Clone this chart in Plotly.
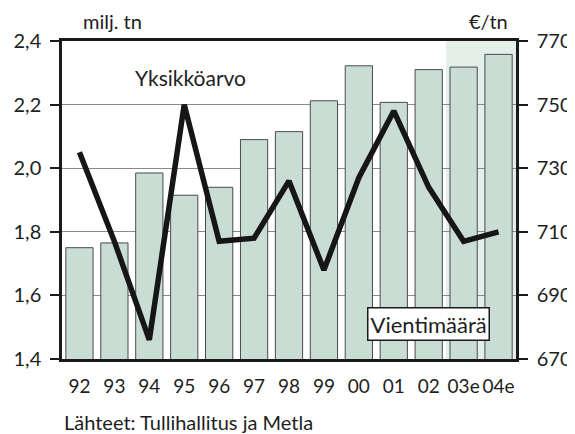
import plotly.graph_objects as go

years = ["92", "93", "94", "95", "96", "97", "98", "99", "00", "01", "02", "03e", "04e"]
volume = [1.75, 1.765, 1.985, 1.915, 1.94, 2.09, 2.115, 2.212, 2.322, 2.207, 2.31, 2.318, 2.358]
unit_value = [735, 707, 676, 750, 707, 708, 726, 698, 727, 748, 724, 707, 710]

FONT = "Lato"
TXT = "#1e1e1e"

fig = go.Figure()
fig.add_trace(go.Bar(
    x=years, y=volume, yaxis="y",
    marker=dict(color="#c9ddd5", line=dict(color="#4a4a4a", width=1)),
    showlegend=False,
))
fig.add_trace(go.Scatter(
    x=years, y=unit_value, yaxis="y2", mode="lines",
    line=dict(color="#161616", width=5.5),
    showlegend=False,
))

fig.add_shape(type="rect", xref="x", yref="paper", x0=10.5, x1=12.5, y0=0, y1=1,
              fillcolor="#e3f0ea", line=dict(width=0), layer="below")

# page body has an 8px margin; work in reference pixel coords and compensate
OFF = 8
FW, FH = 575 - OFF, 434 - OFF
L, R, T, B = 62, 516, 41, 359
W = R - L
H = B - T


def px(x):
    return (x - L) / W


def py(y):
    return (B - y) / H


fig.update_layout(
    width=FW, height=FH,
    margin=dict(l=L - OFF, r=FW - (R - OFF), t=T - OFF, b=FH - (B - OFF), autoexpand=False),
    paper_bgcolor="white", plot_bgcolor="white",
    separators=", ",
    bargap=0.22,
    font=dict(family=FONT, color=TXT, size=20),
    xaxis=dict(
        type="category", range=[-0.5, 12.5], automargin=False, tickangle=0,
        showline=True, linecolor="#1a1a1a", linewidth=2.5, mirror=True,
        ticks="", showgrid=False, ticklabelstandoff=8,
        tickfont=dict(size=19, family=FONT, color=TXT),
    ),
    yaxis=dict(
        range=[1.4, 2.4], dtick=0.2, tick0=1.4, tickformat=".1f", automargin=False,
        showline=True, linecolor="#1a1a1a", linewidth=2.5,
        ticks="outside", ticklen=9, tickwidth=2, tickcolor="#1a1a1a",
        showgrid=True, gridcolor="#8a8a8a", gridwidth=1,
        zeroline=False, ticklabelstandoff=5,
        tickfont=dict(size=20, family=FONT, color=TXT),
    ),
    yaxis2=dict(
        overlaying="y", side="right", range=[670, 770], dtick=20, tick0=670, automargin=False,
        showline=True, linecolor="#1a1a1a", linewidth=2.5,
        ticks="outside", ticklen=9, tickwidth=2, tickcolor="#1a1a1a",
        showgrid=False, zeroline=False, ticklabelstandoff=5,
        tickfont=dict(size=20, family=FONT, color=TXT),
    ),
    annotations=[
        dict(text="milj. tn", xref="paper", yref="paper", x=px(81), y=py(21),
             xanchor="left", yanchor="middle", showarrow=False, font=dict(size=20)),
        dict(text="€/tn", xref="paper", yref="paper", x=px(510), y=py(21),
             xanchor="right", yanchor="middle", showarrow=False, font=dict(size=20)),
        dict(text="Yksikköarvo", xref="paper", yref="paper", x=px(190), y=py(77),
             xanchor="center", yanchor="middle", showarrow=False, font=dict(size=21)),
        dict(text="Vientimäärä", xref="paper", yref="paper", x=px(428), y=py(324),
             xanchor="center", yanchor="middle", showarrow=False, font=dict(size=22),
             bgcolor="white", bordercolor="#1a1a1a", borderwidth=1.5, borderpad=2),
        dict(text="Lähteet: Tullihallitus ja Metla", xref="paper", yref="paper",
             x=px(62), y=py(422),
             xanchor="left", yanchor="middle", showarrow=False, font=dict(size=20)),
    ],
)

fig.write_html("out.html")
